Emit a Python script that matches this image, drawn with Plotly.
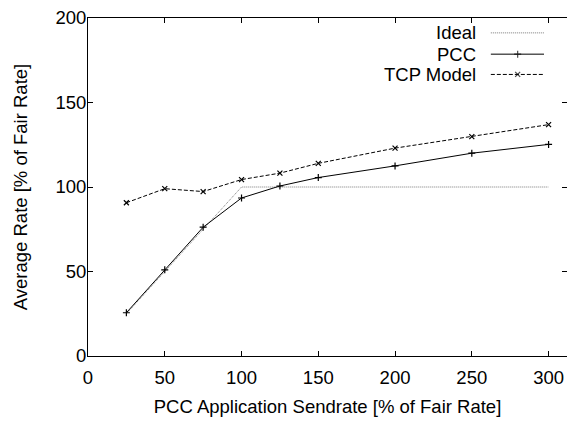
import plotly.graph_objects as go

x_vals = [25, 50, 75, 100, 125, 150, 200, 250, 300]
ideal = [25, 50, 75, 100, 100, 100, 100, 100, 100]
pcc = [25.6, 51, 76.2, 93.5, 100.6, 105.6, 112.5, 120, 125.2]
tcp = [90.7, 99, 97.3, 104.4, 108.2, 114, 123, 129.8, 136.9]

series_names = ["Ideal", "PCC", "TCP Model"]

FONT = "Liberation Sans, Arial, Helvetica, sans-serif"
FS = 18.5

IDEAL_LINE = dict(color="#7a7a7a", width=1, dash="1px,1px")
PCC_LINE = dict(color="black", width=1)
TCP_LINE = dict(color="black", width=1, dash="4px,2px")

fig = go.Figure()
fig.add_trace(go.Scatter(x=x_vals, y=ideal, mode="lines", name="Ideal", line=IDEAL_LINE))
fig.add_trace(go.Scatter(x=x_vals, y=pcc, mode="lines+markers", name="PCC", line=PCC_LINE,
                         marker=dict(symbol="cross-thin", size=5, line=dict(color="black", width=1.2))))
fig.add_trace(go.Scatter(x=x_vals, y=tcp, mode="lines+markers", name="TCP Model", line=TCP_LINE,
                         marker=dict(symbol="x-thin", size=5, line=dict(color="black", width=1.2))))

# custom legend (text left, sample right) on an overlay axis in unit coords
leg_rows = [0.956, 0.893, 0.833]
leg_styles = [
    dict(line=IDEAL_LINE, mode="lines", marker=None),
    dict(line=PCC_LINE, mode="lines+markers",
         marker=dict(symbol="cross-thin", size=[0, 5, 0], line=dict(color="black", width=1.2))),
    dict(line=TCP_LINE, mode="lines+markers",
         marker=dict(symbol="x-thin", size=[0, 5, 0], line=dict(color="black", width=1.2))),
]
for name, yy, st in zip(series_names, leg_rows, leg_styles):
    kw = dict(x=[0.841, 0.897, 0.952], y=[yy, yy, yy], mode=st["mode"], line=st["line"],
              xaxis="x2", yaxis="y2", showlegend=False, hoverinfo="skip")
    if st["marker"] is not None:
        kw["marker"] = st["marker"]
    fig.add_trace(go.Scatter(**kw))
    fig.add_annotation(x=0.815, y=yy, xref="x2", yref="y2", text=name, showarrow=False,
                       xanchor="right", yanchor="middle", font=dict(size=FS, color="black", family=FONT))

axis_common = dict(showgrid=False, zeroline=False, showline=True, linecolor="black", linewidth=1,
                   mirror="allticks", ticks="inside", ticklen=5, tickcolor="black", tickwidth=1,
                   tickfont=dict(size=FS, color="black", family=FONT), automargin=False)

fig.update_layout(
    width=567, height=423,
    margin=dict(l=88, r=0, t=18, b=67),
    paper_bgcolor="white", plot_bgcolor="white",
    showlegend=False,
    font=dict(family=FONT, color="black", size=FS),
    xaxis=dict(range=[0, 312], tickvals=[0, 50, 100, 150, 200, 250, 300], ticklabelstandoff=5,
               title=dict(text="PCC Application Sendrate [% of Fair Rate]", font=dict(size=FS), standoff=12),
               **axis_common),
    yaxis=dict(range=[0, 200], tickvals=[0, 50, 100, 150, 200], ticklabelstandoff=-3,
               title=dict(text="Average Rate [% of Fair Rate]", font=dict(size=FS), standoff=22),
               **axis_common),
    xaxis2=dict(range=[0, 1], overlaying="x", visible=False, fixedrange=True),
    yaxis2=dict(range=[0, 1], overlaying="y", visible=False, fixedrange=True),
)

fig.write_html("out.html", config={"displayModeBar": False},
               post_script="document.body.style.margin='0';document.body.style.overflow='hidden';")
